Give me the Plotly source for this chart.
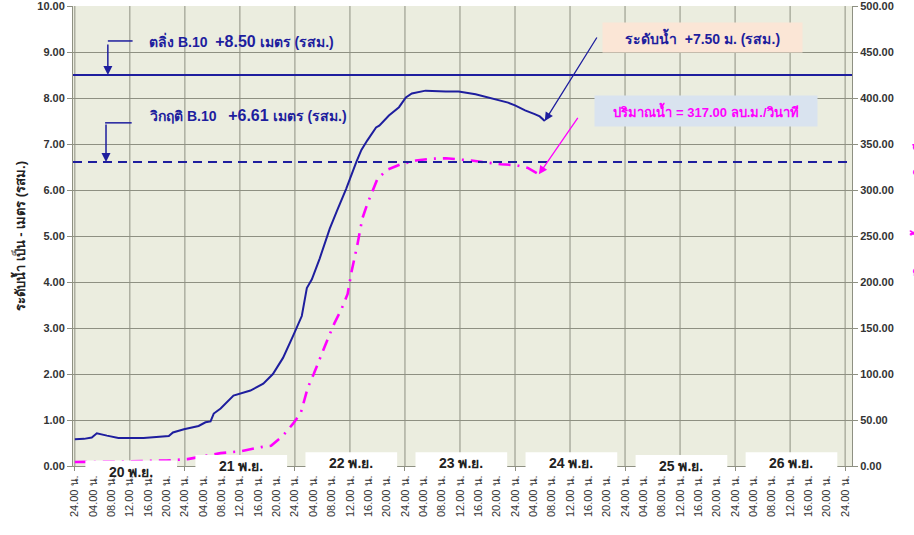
import plotly.graph_objects as go

# ---------------- data ----------------
# hours counted from 20 Nov 00.00 (= "24.00 น." of 19 Nov)
level_hours = [0, 2, 3.7, 4.8, 7, 9.5, 15, 20.5, 21.4, 23.8, 27, 28.5, 29.6, 30.3,
               31.8, 34.6, 38.3, 41.1, 43.2, 45.4, 47.6, 49.5, 50.6, 51.7, 53.4,
               55.6, 57.1, 59.2, 61.4, 62.5, 63.8, 65.7, 66.4, 68.5, 70.7, 72.2,
               73.5, 76.5, 80.9, 83.7, 87.4, 90.2, 93, 94.5, 96, 98.2, 100.3,
               101.4, 102.5]
level_m = [0.58, 0.59, 0.62, 0.71, 0.66, 0.61, 0.61, 0.65, 0.73, 0.80, 0.87, 0.95,
           0.97, 1.14, 1.25, 1.53, 1.64, 1.79, 2.00, 2.35, 2.83, 3.26, 3.87, 4.06,
           4.51, 5.16, 5.53, 6.03, 6.61, 6.87, 7.08, 7.36, 7.40, 7.62, 7.80, 8.01,
           8.10, 8.16, 8.14, 8.14, 8.08, 8.01, 7.95, 7.90, 7.84, 7.73, 7.65, 7.60,
           7.50]

flow_hours = [0, 2, 10, 20, 24.6, 31.8, 36.1, 40.6, 42.8, 45.4, 47.6, 49.3, 50.8,
              52.1, 53.2, 55.4, 56.6, 58.2, 59.5, 60.3, 61.6, 62.7, 63.8, 66.0,
              68.1, 71.1, 74.4, 77.8, 80.9, 83.7, 86.5, 89.7, 92.9, 96.2, 98.8,
              101.2]
flow_cms = [4.3, 4.3, 5, 6, 7.5, 14, 16, 20.5, 22, 33, 46, 58, 85, 100, 114, 141,
            155, 171, 187, 210, 240, 269, 285, 312, 322, 328, 332, 334, 334.5,
            333.5, 332, 330, 328, 327, 324, 317]

BANK_LEVEL = 8.50
CRITICAL_LEVEL = 6.61
LAST_LEVEL = 7.50
LAST_FLOW = 317.00

day_labels = ["20 พ.ย.", "21 พ.ย.", "22 พ.ย.", "23 พ.ย.", "24 พ.ย.", "25 พ.ย.", "26 พ.ย."]
day_hour_labels = ["04.00 น.", "08.00 น.", "12.00 น.", "16.00 น.", "20.00 น.", "24.00 น."]
tick_hours = list(range(0, 169, 4))
tick_text = ["24.00 น."] + day_hour_labels * 7
grid_hours = list(range(0, 169, 12))

# ---------------- style ----------------
NAVY = "#1E1E9E"
PINK = "#FF00FF"
GRID = "#8E9082"
TXT = "#333333"
FONT = "Liberation Sans, DejaVu Sans, sans-serif"

fig = go.Figure()
fig.add_trace(go.Scatter(x=level_hours, y=level_m, mode="lines",
                         line=dict(color=NAVY, width=2), yaxis="y",
                         showlegend=False))
fig.add_trace(go.Scatter(x=flow_hours, y=flow_cms, mode="lines",
                         line=dict(color=PINK, width=2.6, dash="12px,7px,2px,7px"),
                         yaxis="y2", showlegend=False))

shapes = []
for h in grid_hours:
    shapes.append(dict(type="line", xref="x", yref="paper", x0=h, x1=h, y0=0, y1=1,
                       line=dict(color=GRID, width=1), layer="below"))
# threshold lines
shapes.append(dict(type="line", xref="paper", yref="y", x0=0, x1=1,
                   y0=BANK_LEVEL, y1=BANK_LEVEL, line=dict(color=NAVY, width=2)))
shapes.append(dict(type="line", xref="paper", yref="y", x0=0, x1=1,
                   y0=CRITICAL_LEVEL, y1=CRITICAL_LEVEL,
                   line=dict(color=NAVY, width=2, dash="9px,6px")))
# elbow segments of callout arrows
shapes.append(dict(type="line", xref="x", yref="y", x0=7.2, x1=12.6, y0=9.24, y1=9.24,
                   line=dict(color=NAVY, width=1.5)))
shapes.append(dict(type="line", xref="x", yref="y", x0=6.6, x1=12.4, y0=7.46, y1=7.46,
                   line=dict(color=NAVY, width=1.5)))

# white date boxes at the bottom
box_tops = [0.012, 0.024, 0.030, 0.030, 0.030, 0.024, 0.030]
annotations = []
for i, lab in enumerate(day_labels):
    shapes.append(dict(type="rect", xref="x", yref="paper",
                       x0=24 * i + 2.3, x1=24 * i + 22.3, y0=-0.02, y1=box_tops[i],
                       fillcolor="white", line=dict(width=0), layer="above"))
    annotations.append(dict(x=24 * i + 12.3, xref="x", y=box_tops[i] - 0.024, yref="paper",
                            text=f"<b>{lab}</b>", showarrow=False,
                            font=dict(size=14, color="#222222", family=FONT),
                            xanchor="center", yanchor="middle"))

annotations += [
    dict(x=7.2, y=BANK_LEVEL, xref="x", yref="y", ax=0, ay=-32, text="",
         showarrow=True, arrowhead=2, arrowsize=1.2, arrowwidth=1.5, arrowcolor=NAVY),
    dict(x=6.8, y=CRITICAL_LEVEL, xref="x", yref="y", ax=0, ay=-39, text="",
         showarrow=True, arrowhead=2, arrowsize=1.2, arrowwidth=1.5, arrowcolor=NAVY),
    dict(x=15.8, y=9.24, xref="x", yref="y", xanchor="left", yanchor="middle",
         text="<b>ตลิ่ง B.10  <span style='font-size:16px'>+8.50</span> เมตร (รสม.)</b>",
         showarrow=False, font=dict(size=14, color=NAVY, family=FONT)),
    dict(x=15.8, y=7.62, xref="x", yref="y", xanchor="left", yanchor="middle",
         text="<b>วิกฤติ B.10   <span style='font-size:16px'>+6.61</span> เมตร (รสม.)</b>",
         showarrow=False, font=dict(size=14, color=NAVY, family=FONT)),
    dict(x=102.5, y=LAST_LEVEL, xref="x", yref="y", ax=53, ay=-85, text="",
         showarrow=True, arrowhead=2, arrowsize=1.3, arrowwidth=1.3, arrowcolor=NAVY),
    dict(x=101.2, y=LAST_FLOW, xref="x", yref="y2", ax=40, ay=-58, text="",
         showarrow=True, arrowhead=2, arrowsize=1.3, arrowwidth=1.3, arrowcolor=PINK),
    dict(x=136.8, y=9.32, xref="x", yref="y", xanchor="center", yanchor="middle",
         text="<b>ระดับน้ำ  +7.50 ม. (รสม.)</b>", showarrow=False,
         bgcolor="#FBE6D6", borderpad=5, width=189,
         font=dict(size=14, color=NAVY, family=FONT)),
    dict(x=137.6, y=7.72, xref="x", yref="y", xanchor="center", yanchor="middle",
         text="<b>ปริมาณน้ำ = 317.00 ลบ.ม./วินาที</b>", showarrow=False,
         bgcolor="#D9E3EF", borderpad=6, width=210,
         font=dict(size=13, color=PINK, family=FONT)),
    dict(x=1.07, y=0.55, xref="paper", yref="paper", textangle=-90,
         text="<b>ปริมาณน้ำ - ลบ.ม./วินาที</b>", showarrow=False,
         xanchor="left", yanchor="middle",
         font=dict(size=13, color=PINK, family=FONT)),
]

fig.update_layout(
    width=914, height=535,
    margin=dict(l=73, r=62, t=6, b=69, autoexpand=False),
    paper_bgcolor="white", plot_bgcolor="#EBEDDF",
    font=dict(family=FONT, color=TXT),
    xaxis=dict(range=[-0.4, 169.5], tickmode="array", tickvals=tick_hours,
               ticktext=tick_text, tickangle=-90, showgrid=False, zeroline=False,
               ticks="outside", ticklen=4, tickcolor=GRID, automargin=False,
               showline=True, linecolor=GRID, linewidth=1,
               tickfont=dict(size=11, color=TXT, family=FONT)),
    yaxis=dict(range=[0, 10], dtick=1, tickformat=".2f", showgrid=True,
               gridcolor=GRID, gridwidth=1, zeroline=False, automargin=False,
               ticks="outside", ticklen=5, tickcolor=GRID,
               ticklabeloverflow="allow",
               showline=True, linecolor=GRID,
               tickfont=dict(size=11, color=TXT, family=FONT, weight="bold"),
               title=dict(text="<b>ระดับน้ำ เป็น - เมตร (รสม.)</b>",
                          font=dict(size=13, color="#222222", family=FONT), standoff=8)),
    yaxis2=dict(range=[0, 500], dtick=50, tickformat=".2f", overlaying="y",
                side="right", showgrid=False, zeroline=False, automargin=False,
                ticks="outside", ticklen=5, tickcolor=GRID,
                ticklabeloverflow="allow",
                showline=True, linecolor=GRID,
                tickfont=dict(size=11, color=TXT, family=FONT, weight="bold")),
    shapes=shapes, annotations=annotations,
)

fig.write_html("out.html", config={"displayModeBar": False},
               post_script="document.body.style.margin='0px';document.body.style.overflow='hidden';")
